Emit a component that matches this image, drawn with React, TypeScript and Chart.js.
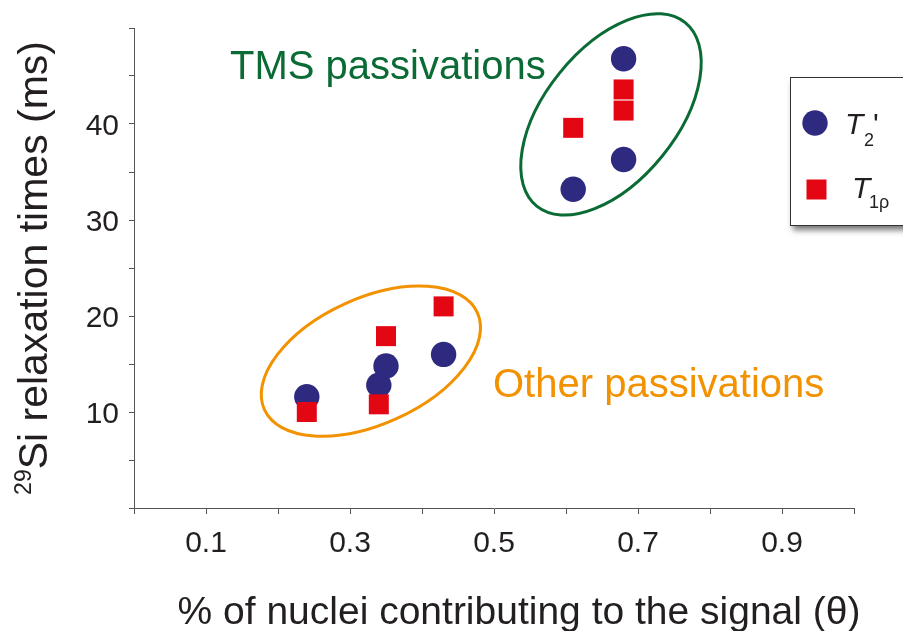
import { useEffect, useRef } from 'react';
import { Chart, registerables } from 'chart.js';

Chart.register(...registerables);

// Fraction of nuclei contributing to the signal (θ)
const t2Theta = [0.24, 0.34, 0.35, 0.43, 0.61, 0.68, 0.68];
// T2' relaxation times (ms)
const t2Times = [11.6, 12.8, 14.8, 16.0, 33.2, 36.3, 46.8];

const t1Theta = [0.24, 0.34, 0.35, 0.43, 0.61, 0.68, 0.68];
// T1ρ relaxation times (ms)
const t1Times = [10.0, 10.8, 17.9, 21.0, 39.6, 41.4, 43.6];

// Labelled ticks
const xTickLabels = [0.1, 0.3, 0.5, 0.7, 0.9];
const yTickLabels = [10, 20, 30, 40];

const NAVY = '#2d2a7f';
const RED = '#e30613';
const GREEN = '#0b6b35';
const ORANGE = '#f39200';
const INK = '#231f20';
const FONT = '"Liberation Sans", Arial, sans-serif';

// Group outlines (centre in data units, radii in px, tilt in degrees)
const groups = [
  { name: 'TMS passivations', color: GREEN, cx: 0.6625, cy: 41.0, rx: 118, ry: 66, tilt: -51, tx: 0.1333, ty: 44.7 },
  { name: 'Other passivations', color: ORANGE, cx: 0.329, cy: 15.3, rx: 117, ry: 63, tilt: -24.5, tx: 0.4986, ty: 11.6 },
];

const near = (v: number, list: number[]) => list.some((l) => Math.abs(l - v) < 1e-6);

const groupPlugin = {
  id: 'groupRings',
  beforeDatasetsDraw(chart: any) {
    const { ctx, scales } = chart;
    const xs = scales.x;
    const ys = scales.y;
    ctx.save();
    for (const g of groups) {
      ctx.beginPath();
      ctx.ellipse(
        xs.getPixelForValue(g.cx),
        ys.getPixelForValue(g.cy),
        g.rx,
        g.ry,
        (g.tilt * Math.PI) / 180,
        0,
        Math.PI * 2
      );
      ctx.lineWidth = 3;
      ctx.strokeStyle = g.color;
      ctx.stroke();
      ctx.fillStyle = g.color;
      ctx.font = `40px ${FONT}`;
      ctx.textAlign = 'left';
      ctx.textBaseline = 'alphabetic';
      ctx.fillText(g.name, xs.getPixelForValue(g.tx), ys.getPixelForValue(g.ty));
    }
    ctx.restore();
  },
};

const titlesPlugin = {
  id: 'axisTitles',
  afterDraw(chart: any) {
    const { ctx } = chart;
    ctx.save();
    ctx.fillStyle = INK;
    ctx.textBaseline = 'alphabetic';

    // x-axis title
    ctx.font = `39px ${FONT}`;
    ctx.textAlign = 'center';
    ctx.fillText('% of nuclei contributing to the signal (θ)', 519, 624);

    // y-axis title with superscript isotope number
    ctx.textAlign = 'left';
    ctx.font = `23px ${FONT}`;
    const sup = '29';
    const supW = ctx.measureText(sup).width;
    ctx.font = `41px ${FONT}`;
    const main = 'Si relaxation times (ms)';
    const mainW = ctx.measureText(main).width;
    const total = supW + mainW;
    ctx.translate(47, 41 + total);
    ctx.rotate(-Math.PI / 2);
    ctx.font = `23px ${FONT}`;
    ctx.fillText(sup, 0, -16);
    ctx.font = `41px ${FONT}`;
    ctx.fillText(main, supW, 0);
    ctx.restore();
  },
};

const legendPlugin = {
  id: 'boxLegend',
  afterDraw(chart: any) {
    const { ctx } = chart;
    ctx.save();
    // box with drop shadow
    ctx.shadowColor = 'rgba(0,0,0,0.55)';
    ctx.shadowBlur = 6;
    ctx.shadowOffsetX = 2;
    ctx.shadowOffsetY = 4;
    ctx.fillStyle = '#ffffff';
    ctx.fillRect(790.5, 77.5, 130, 148);
    ctx.shadowColor = 'transparent';
    ctx.lineWidth = 1;
    ctx.strokeStyle = '#333';
    ctx.strokeRect(790.5, 77.5, 130, 148);

    // T2' marker
    ctx.fillStyle = NAVY;
    ctx.beginPath();
    ctx.arc(815, 123, 12.7, 0, Math.PI * 2);
    ctx.fill();
    // T1ρ marker
    ctx.fillStyle = RED;
    ctx.fillRect(806.5, 179.5, 20, 20);

    ctx.fillStyle = INK;
    ctx.textAlign = 'left';
    ctx.textBaseline = 'alphabetic';
    ctx.font = `italic 30px ${FONT}`;
    ctx.fillText('T', 845, 134);
    ctx.font = `18px ${FONT}`;
    ctx.fillText('2', 864, 146);
    ctx.font = `30px ${FONT}`;
    ctx.fillText("'", 873, 134);

    ctx.font = `italic 30px ${FONT}`;
    ctx.fillText('T', 852, 198);
    ctx.font = `18px ${FONT}`;
    ctx.fillText('1ρ', 869, 208);
    ctx.restore();
  },
};

export default function App() {
  const canvasRef = useRef<HTMLCanvasElement | null>(null);

  useEffect(() => {
    const canvas = canvasRef.current;
    if (!canvas) return;
    const chart = new Chart(canvas, {
      type: 'scatter',
      data: {
        datasets: [
          {
            label: "T2'",
            data: t2Theta.map((x, i) => ({ x, y: t2Times[i] })),
            pointStyle: 'circle',
            pointRadius: 12.7,
            pointHoverRadius: 12.7,
            backgroundColor: NAVY,
            borderWidth: 0,
            order: 2,
          },
          {
            label: 'T1ρ',
            data: t1Theta.map((x, i) => ({ x, y: t1Times[i] })),
            pointStyle: 'rect',
            pointRadius: 14.14,
            pointHoverRadius: 14.14,
            backgroundColor: RED,
            borderWidth: 0,
            order: 1,
          },
        ],
      },
      options: {
        responsive: false,
        animation: false,
        devicePixelRatio: 1,
        layout: { padding: { top: 28, right: 49, left: 0, bottom: 0 } },
        plugins: { legend: { display: false }, tooltip: { enabled: false } },
        scales: {
          x: {
            type: 'linear',
            min: 0,
            max: 1,
            afterFit: (s: any) => {
              s.height = 123;
            },
            ticks: {
              stepSize: 0.1,
              autoSkip: false,
              maxRotation: 0,
              padding: 12,
              color: INK,
              font: { family: FONT, size: 30 },
              callback: (v: any) => (near(Number(v), xTickLabels) ? Number(v).toFixed(1) : ''),
            },
            grid: { drawOnChartArea: false, drawTicks: true, tickLength: 6, color: '#555', lineWidth: 1 },
            border: { display: true, color: '#555', width: 1 },
          },
          y: {
            type: 'linear',
            min: 0,
            max: 50,
            afterFit: (s: any) => {
              s.width = 134;
            },
            ticks: {
              stepSize: 5,
              autoSkip: false,
              padding: 10,
              labelOffset: 3,
              color: INK,
              font: { family: FONT, size: 30 },
              callback: (v: any) => (near(Number(v), yTickLabels) ? String(Math.round(Number(v))) : ''),
            },
            grid: { drawOnChartArea: false, drawTicks: true, tickLength: 5, color: '#555', lineWidth: 1 },
            border: { display: true, color: '#555', width: 1 },
          },
        },
      },
      plugins: [groupPlugin, titlesPlugin, legendPlugin],
    });
    return () => chart.destroy();
  }, []);

  return (
    <div style={{ position: 'fixed', left: 0, top: 0, width: 903, height: 631, background: '#fff' }}>
      <canvas ref={canvasRef} width={903} height={631} />
    </div>
  );
}
